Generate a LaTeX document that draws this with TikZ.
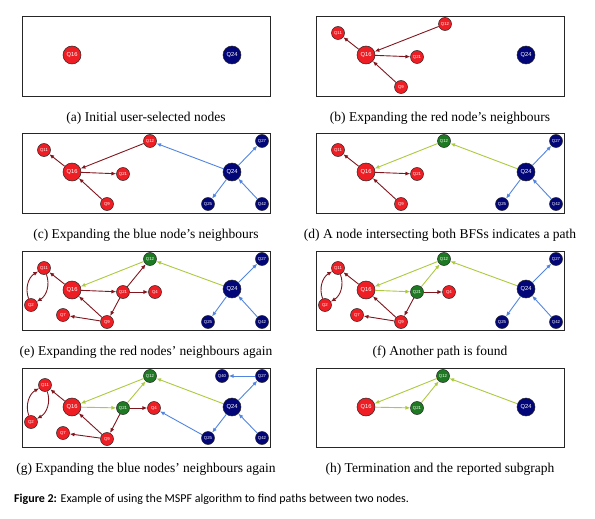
\documentclass[tikz,border=0pt]{standalone}
\usepackage{fontspec}
\setmainfont{Liberation Serif}
\newfontfamily\capsans{Carlito}
\newfontfamily\nodefont{Liberation Sans}
\usetikzlibrary{arrows.meta}
\definecolor{nred}{RGB}{238,30,36}
\definecolor{nblue}{RGB}{2,6,120}
\definecolor{ngreen}{RGB}{30,122,34}
\definecolor{ered}{RGB}{130,22,30}
\definecolor{eblue}{RGB}{82,132,226}
\definecolor{egreen}{RGB}{172,202,62}
\begin{document}
\begin{tikzpicture}[x=1pt,y=1pt,
  big/.style={circle,draw=black!85,line width=0.5pt,minimum size=18pt,inner sep=0pt,text=white,font=\nodefont\fontsize{5.8}{6}\selectfont},
  small/.style={circle,draw=black!85,line width=0.5pt,minimum size=13pt,inner sep=0pt,text=white,font=\nodefont\fontsize{4.3}{5}\selectfont},
  rn/.style={fill=nred}, bn/.style={fill=nblue}, gn/.style={fill=ngreen},
  edge/.style={line width=0.9pt,-{Latex[length=4.8pt,width=4pt]}},
  re/.style={edge,draw=ered},
  be/.style={edge,draw=eblue},
  ge/.style={edge,draw=egreen},
  panel/.style={draw=black!85,line width=0.8pt},
  sub/.style={font=\fontsize{13.5}{15}\selectfont}
]
\useasboundingbox (0,0) rectangle (595,-519);

% (a)
\begin{scope}[shift={(22,-16)}]
\draw[panel] (0,0) rectangle (248,-80);
\node[big,rn] (a16) at (50,-39) {Q16};
\node[big,bn] (a24) at (210,-39) {Q24};
\end{scope}
\node[sub] (capa) at (146,-118) {(a) Initial user-selected nodes};

% (b)
\begin{scope}[shift={(316,-16)}]
\draw[panel] (0,0) rectangle (248,-80);
\node[big,rn] (b16) at (50,-39) {Q16};
\node[big,bn] (b24) at (210,-39) {Q24};
\node[small,rn] (b11) at (22,-17) {Q11};
\node[small,rn] (b12) at (129,-8) {Q12};
\node[small,rn] (b21) at (101,-41) {Q21};
\node[small,rn] (b9) at (85,-71) {Q9};
\draw[re] (b16) -- (b11);
\draw[re] (b12) -- (b16);
\draw[re] (b16) -- (b21);
\draw[re] (b9) -- (b16);
\end{scope}
\node[sub] (capb) at (440,-118) {(b) Expanding the red node’s neighbours};

% (c)
\begin{scope}[shift={(22,-133)}]
\draw[panel] (0,0) rectangle (248,-80);
\node[big,rn] (c16) at (50,-39) {Q16};
\node[big,bn] (c24) at (210,-39) {Q24};
\node[small,rn] (c11) at (22,-17) {Q11};
\node[small,rn] (c12) at (128,-8) {Q12};
\node[small,rn] (c21) at (101,-41) {Q21};
\node[small,rn] (c9) at (85,-71) {Q9};
\node[small,bn] (c27) at (240,-8) {Q27};
\node[small,bn] (c25) at (186,-71) {Q25};
\node[small,bn] (c42) at (240,-71) {Q42};
\draw[re] (c16) -- (c11);
\draw[re] (c12) -- (c16);
\draw[re] (c16) -- (c21);
\draw[re] (c9) -- (c16);
\draw[be] (c24) -- (c12);
\draw[be] (c24) -- (c27);
\draw[be] (c24) -- (c25);
\draw[be] (c42) -- (c24);
\end{scope}
\node[sub] (capc) at (146,-235) {(c) Expanding the blue node’s neighbours};

% (d)
\begin{scope}[shift={(316,-133)}]
\draw[panel] (0,0) rectangle (248,-80);
\node[big,rn] (d16) at (50,-39) {Q16};
\node[big,bn] (d24) at (210,-39) {Q24};
\node[small,rn] (d11) at (22,-17) {Q11};
\node[small,gn] (d12) at (128,-8) {Q12};
\node[small,rn] (d21) at (101,-41) {Q21};
\node[small,rn] (d9) at (85,-71) {Q9};
\node[small,bn] (d27) at (240,-8) {Q27};
\node[small,bn] (d25) at (186,-71) {Q25};
\node[small,bn] (d42) at (240,-71) {Q42};
\draw[re] (d16) -- (d11);
\draw[ge] (d12) -- (d16);
\draw[re] (d16) -- (d21);
\draw[re] (d9) -- (d16);
\draw[ge] (d24) -- (d12);
\draw[be] (d24) -- (d27);
\draw[be] (d24) -- (d25);
\draw[be] (d42) -- (d24);
\end{scope}
\node[sub] (capd) at (440,-235) {(d) A node intersecting both BFSs indicates a path};

% (e)
\begin{scope}[shift={(22,-251)}]
\draw[panel] (0,0) rectangle (248,-79);
\node[big,rn] (e16) at (50,-39) {Q16};
\node[big,bn] (e24) at (210,-38) {Q24};
\node[small,rn] (e11) at (22,-17) {Q11};
\node[small,rn] (e2) at (9,-54) {Q2};
\node[small,gn] (e12) at (128,-8) {Q12};
\node[small,rn] (e21) at (101,-41) {Q21};
\node[small,rn] (e4) at (133,-41) {Q4};
\node[small,rn] (e7) at (41,-64) {Q7};
\node[small,rn] (e9) at (85,-71) {Q9};
\node[small,bn] (e27) at (240,-8) {Q27};
\node[small,bn] (e25) at (186,-71) {Q25};
\node[small,bn] (e42) at (240,-71) {Q42};
\draw[re] (e16) -- (e11);
\draw[re] (e2) to[bend left=40] (e11);
\draw[re] (e11) to[bend left=40] (e2);
\draw[re] (e16) -- (e21);
\draw[re] (e21) -- (e12);
\draw[re] (e21) -- (e4);
\draw[re] (e21) -- (e9);
\draw[re] (e9) -- (e16);
\draw[re] (e9) -- (e7);
\draw[ge] (e12) -- (e16);
\draw[ge] (e24) -- (e12);
\draw[be] (e24) -- (e27);
\draw[be] (e24) -- (e25);
\draw[be] (e42) -- (e24);
\end{scope}
\node[sub] (cape) at (146,-352) {(e) Expanding the red nodes’ neighbours again};

% (f)
\begin{scope}[shift={(316,-251)}]
\draw[panel] (0,0) rectangle (248,-79);
\node[big,rn] (f16) at (50,-39) {Q16};
\node[big,bn] (f24) at (210,-38) {Q24};
\node[small,rn] (f11) at (22,-17) {Q11};
\node[small,rn] (f2) at (9,-54) {Q2};
\node[small,gn] (f12) at (128,-8) {Q12};
\node[small,gn] (f21) at (101,-41) {Q21};
\node[small,rn] (f4) at (133,-41) {Q4};
\node[small,rn] (f7) at (41,-64) {Q7};
\node[small,rn] (f9) at (85,-71) {Q9};
\node[small,bn] (f27) at (240,-8) {Q27};
\node[small,bn] (f25) at (186,-71) {Q25};
\node[small,bn] (f42) at (240,-71) {Q42};
\draw[re] (f16) -- (f11);
\draw[re] (f2) to[bend left=40] (f11);
\draw[re] (f11) to[bend left=40] (f2);
\draw[ge] (f16) -- (f21);
\draw[ge] (f21) -- (f12);
\draw[re] (f21) -- (f4);
\draw[re] (f21) -- (f9);
\draw[re] (f9) -- (f16);
\draw[re] (f9) -- (f7);
\draw[ge] (f12) -- (f16);
\draw[ge] (f24) -- (f12);
\draw[be] (f24) -- (f27);
\draw[be] (f24) -- (f25);
\draw[be] (f42) -- (f24);
\end{scope}
\node[sub] (capf) at (440,-352) {(f) Another path is found};

% (g)
\begin{scope}[shift={(22,-368)}]
\draw[panel] (0,0) rectangle (248,-79);
\node[big,rn] (g16) at (50,-39) {Q16};
\node[big,bn] (g24) at (210,-39) {Q24};
\node[small,rn] (g11) at (23,-17) {Q11};
\node[small,rn] (g2) at (9,-54) {Q2};
\node[small,gn] (g12) at (128,-8) {Q12};
\node[small,gn] (g21) at (101,-40) {Q21};
\node[small,rn] (g4) at (132,-40) {Q4};
\node[small,rn] (g7) at (41,-65) {Q7};
\node[small,rn] (g9) at (85,-71) {Q9};
\node[small,bn] (g40) at (200,-8) {Q40};
\node[small,bn] (g27) at (240,-8) {Q27};
\node[small,bn] (g25) at (186,-70) {Q25};
\node[small,bn] (g42) at (240,-70) {Q42};
\draw[re] (g16) -- (g11);
\draw[re] (g2) to[bend left=40] (g11);
\draw[re] (g11) to[bend left=40] (g2);
\draw[ge] (g16) -- (g21);
\draw[ge] (g21) -- (g12);
\draw[re] (g21) -- (g4);
\draw[re] (g21) -- (g9);
\draw[re] (g9) -- (g16);
\draw[re] (g9) -- (g7);
\draw[ge] (g12) -- (g16);
\draw[ge] (g24) -- (g12);
\draw[be] (g24) -- (g27);
\draw[be] (g24) -- (g25);
\draw[be] (g42) -- (g24);
\draw[be] (g27) -- (g40);
\draw[be] (g25) -- (g4);
\end{scope}
\node[sub] (capg) at (146,-469) {(g) Expanding the blue nodes’ neighbours again};

% (h)
\begin{scope}[shift={(316,-368)}]
\draw[panel] (0,0) rectangle (248,-79);
\node[big,rn] (h16) at (50,-39) {Q16};
\node[big,bn] (h24) at (210,-39) {Q24};
\node[small,gn] (h12) at (127,-8) {Q12};
\node[small,gn] (h21) at (101,-40) {Q21};
\draw[ge] (h12) -- (h16);
\draw[ge] (h16) -- (h21);
\draw[ge] (h21) -- (h12);
\draw[ge] (h24) -- (h12);
\end{scope}
\node[sub] (caph) at (440,-469) {(h) Termination and the reported subgraph};

\node[anchor=west,inner sep=0pt,font=\capsans\fontsize{12}{14}\selectfont] (cap) at (14,-499) {\textbf{Figure 2:} Example of using the MSPF algorithm to find paths between two nodes.};
\end{tikzpicture}
\end{document}
